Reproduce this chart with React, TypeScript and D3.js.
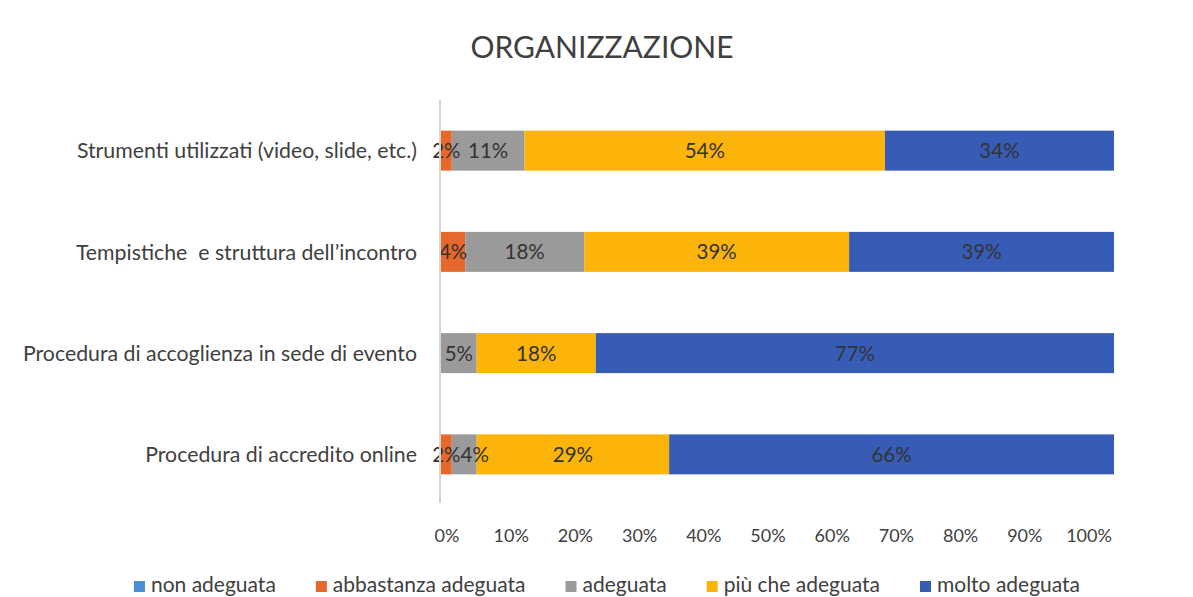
import React, { useEffect, useRef } from "react";
import * as d3 from "d3";

const title = "ORGANIZZAZIONE";
const categories = [
  "Strumenti utilizzati (video, slide, etc.)",
  "Tempistiche  e struttura dell’incontro",
  "Procedura di accoglienza in sede di evento",
  "Procedura di accredito online",
];
const seriesNames = ["non adeguata", "abbastanza adeguata", "adeguata", "più che adeguata", "molto adeguata"];
const nonAdeguata = [0, 0, 0, 0];
const abbastanzaAdeguata = [1.6, 3.6, 0, 1.6];
const adeguata = [10.8, 17.7, 5.3, 3.7];
const piuCheAdeguata = [53.5, 39.4, 17.7, 28.6];
const moltoAdeguata = [34.0, 39.4, 77.0, 66.1];
const tickValues = [0, 0.1, 0.2, 0.3, 0.4, 0.5, 0.6, 0.7, 0.8, 0.9, 1.0];
const colors = ["#4A8CD6", "#E6682A", "#9A9A9A", "#FCB30A", "#375CB6"];

const W = 1193;
const H = 597;
const FONT = "Lato, 'Open Sans', sans-serif";
const TEXT = "#404040";

export default function App() {
  const ref = useRef<SVGSVGElement | null>(null);

  useEffect(() => {
    const svg = d3.select(ref.current);
    svg.selectAll("*").remove();

    const seriesValues = [nonAdeguata, abbastanzaAdeguata, adeguata, piuCheAdeguata, moltoAdeguata];
    const rows = categories.map((c, i) => {
      const r: any = { cat: c };
      seriesNames.forEach((s, k) => (r[s] = seriesValues[k][i]));
      return r;
    });
    const stacked = d3.stack<any>().keys(seriesNames).offset(d3.stackOffsetExpand)(rows);

    const x = d3.scaleLinear().domain([0, 1]).range([441, 1114]);
    const xLabel = d3.scaleLinear().domain([0, 1]).range([447, 1089]);
    const y = d3.scaleBand().domain(categories).range([100, 505]).paddingInner(0.605).paddingOuter(0.3025);

    // title
    svg.append("text")
      .attr("x", 602).attr("y", 58)
      .attr("text-anchor", "middle")
      .attr("font-family", FONT).attr("font-size", 30)
      .attr("fill", TEXT)
      .text(title);

    // bars
    const g = svg.append("g");
    stacked.forEach((layer, k) => {
      g.selectAll(null)
        .data(layer)
        .enter()
        .append("rect")
        .attr("x", (d) => x(d[0]))
        .attr("y", (d) => y(d.data.cat)!)
        .attr("width", (d) => Math.max(0, x(d[1]) - x(d[0])))
        .attr("height", y.bandwidth())
        .attr("fill", colors[k]);
    });
    // data labels (with simple left-to-right collision avoidance per row)
    const lastRight: Record<string, number> = {};
    stacked.forEach((layer, k) => {
      layer
        .filter((d) => d.data[seriesNames[k]] > 0)
        .forEach((d) => {
          const cat = d.data.cat as string;
          const t = g.append("text")
            .attr("y", y(cat)! + y.bandwidth() / 2)
            .attr("dy", "0.36em")
            .attr("text-anchor", "start")
            .attr("font-family", FONT).attr("font-size", 20.5)
            .attr("fill", "#333333")
            .text(Math.round(d.data[seriesNames[k]]) + "%");
          const w = (t.node() as SVGTextElement).getComputedTextLength();
          let left = (x(d[0]) + x(d[1])) / 2 - w / 2;
          if (lastRight[cat] !== undefined && left < lastRight[cat]) left = lastRight[cat];
          t.attr("x", left);
          lastRight[cat] = left + w;
        });
    });

    // vertical axis line
    svg.append("line")
      .attr("x1", 440).attr("x2", 440)
      .attr("y1", 100).attr("y2", 503)
      .attr("stroke", "#d4d4d4").attr("stroke-width", 2);

    // category labels
    svg.append("g").selectAll("text")
      .data(categories)
      .enter()
      .append("text")
      .attr("x", 417)
      .attr("y", (d) => y(d)! + y.bandwidth() / 2)
      .attr("dy", "0.36em")
      .attr("text-anchor", "end")
      .attr("font-family", FONT).attr("font-size", 21.3)
      .attr("fill", TEXT)
      .style("white-space", "pre")
      .text((d) => d);

    // x tick labels
    const fmt = d3.format(".0%");
    svg.append("g").selectAll("text")
      .data(tickValues)
      .enter()
      .append("text")
      .attr("x", (d) => xLabel(d))
      .attr("y", 542)
      .attr("text-anchor", "middle")
      .attr("font-family", FONT).attr("font-size", 18)
      .attr("fill", TEXT)
      .text((d) => fmt(d));

    // legend
    const lg = svg.append("g");
    const items = seriesNames.map((name, k) => {
      const it = lg.append("g");
      it.append("rect").attr("x", 0).attr("y", -11).attr("width", 11).attr("height", 11).attr("fill", colors[k]);
      const t = it.append("text")
        .attr("x", 17).attr("y", 0)
        .attr("font-family", FONT).attr("font-size", 21)
        .attr("fill", TEXT)
        .text(name);
      const w = 17 + (t.node() as SVGTextElement).getComputedTextLength();
      return { it, w };
    });
    const gap = 40;
    const total = d3.sum(items, (d) => d.w) + gap * (items.length - 1);
    let cx = 607 - total / 2;
    items.forEach(({ it, w }) => {
      it.attr("transform", `translate(${cx},592)`);
      cx += w + gap;
    });
  }, []);

  return (
    <svg
      ref={ref}
      width={W}
      height={H}
      style={{ position: "absolute", left: 0, top: 0, background: "#fff" }}
    />
  );
}
